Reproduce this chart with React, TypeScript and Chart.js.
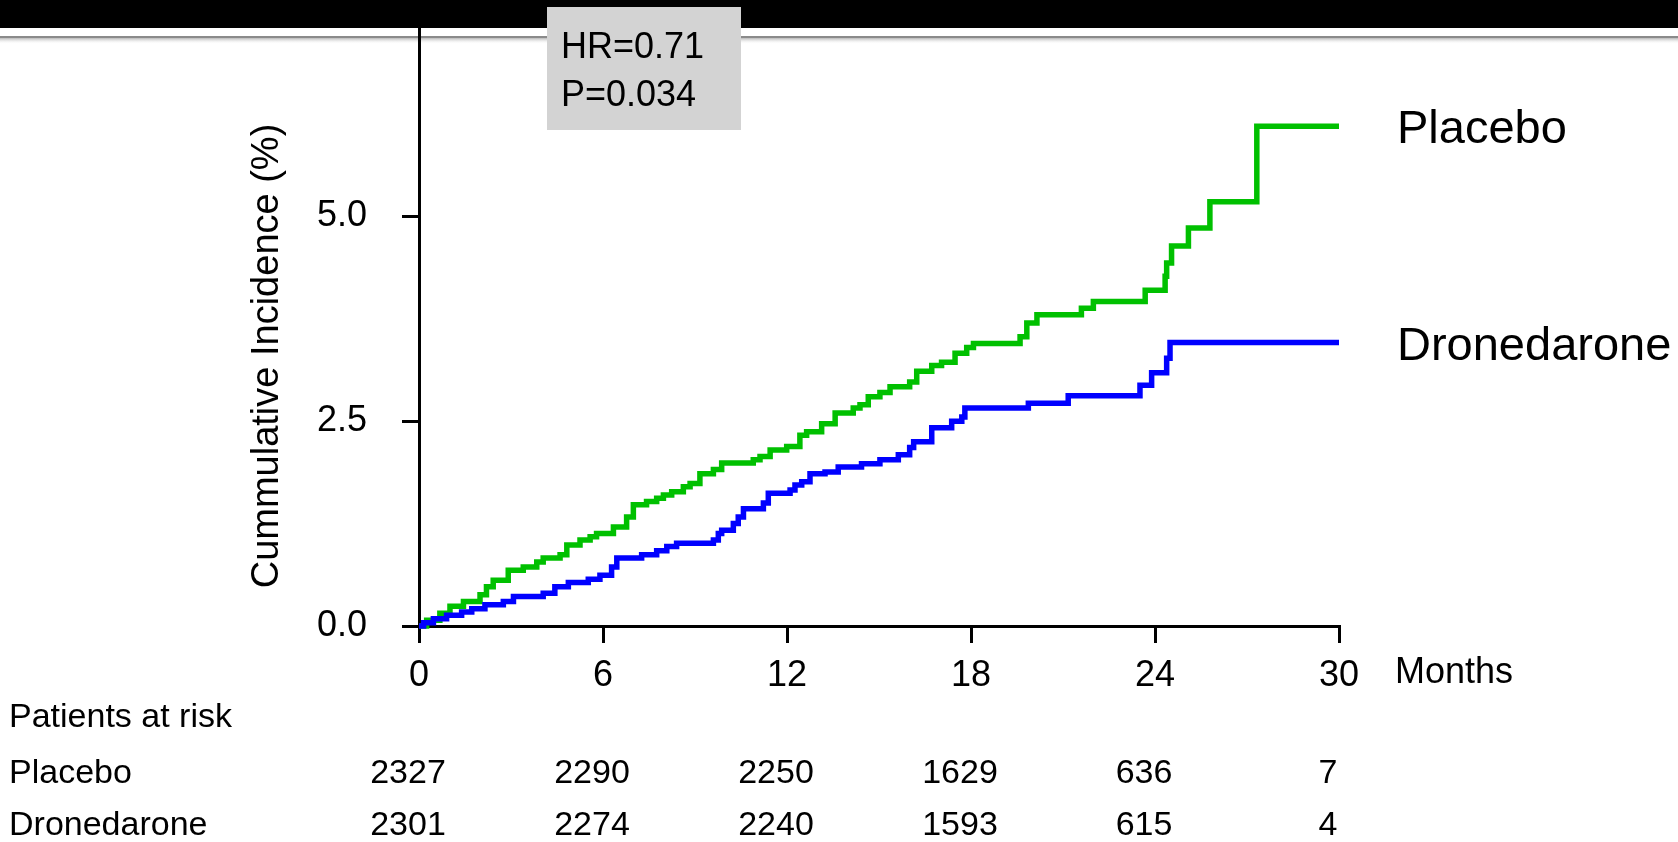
import React, { useEffect, useRef } from "react";
import { Chart, registerables } from "chart.js";

Chart.register(...registerables);

// Axis ticks
const monthTicks = [0, 6, 12, 18, 24, 30];
const incidenceTicks = [0, 2.5, 5.0];

// Kaplan–Meier style cumulative incidence steps (month of event, new cumulative %)
const placeboMonths = [
  0, 0.25, 0.68, 1.01, 1.45, 1.99, 2.2, 2.42, 2.91, 3.4, 3.84, 4.05, 4.6, 4.82,
  5.25, 5.58, 5.79, 6.34, 6.77, 6.99, 7.42, 7.75, 7.97, 8.24, 8.62, 8.84, 9.16,
  9.6, 9.87, 10.9, 11.12, 11.45, 11.99, 12.42, 12.64, 13.13, 13.57, 14.16,
  14.38, 14.65, 15.03, 15.36, 16.0, 16.23, 16.72, 17.04, 17.48, 17.86, 18.08,
  19.6, 19.82, 20.15, 21.6, 21.99, 23.68, 24.33, 24.38, 24.54, 25.09, 25.79,
  27.32, 30,
];
const placeboIncidence = [
  0, 0.07, 0.155, 0.24, 0.3, 0.38, 0.48, 0.56, 0.68, 0.72, 0.78, 0.83, 0.87,
  0.99, 1.05, 1.09, 1.13, 1.21, 1.33, 1.48, 1.52, 1.56, 1.6, 1.64, 1.7, 1.74,
  1.86, 1.91, 1.99, 2.03, 2.07, 2.15, 2.19, 2.33, 2.37, 2.47, 2.6, 2.66, 2.7,
  2.8, 2.85, 2.92, 2.98, 3.11, 3.18, 3.22, 3.33, 3.4, 3.45, 3.53, 3.7, 3.8,
  3.88, 3.96, 4.1, 4.27, 4.43, 4.64, 4.86, 5.18, 6.1, 6.1,
];

const dronedaroneMonths = [
  0, 0.15, 0.47, 0.9, 1.39, 1.72, 2.15, 2.75, 3.08, 4.05, 4.43, 4.87, 5.52, 5.9,
  6.28, 6.45, 7.26, 7.75, 8.08, 8.4, 9.6, 9.76, 9.87, 10.25, 10.41, 10.58,
  11.23, 11.39, 12.1, 12.26, 12.48, 12.75, 13.24, 13.67, 14.43, 15.03, 15.63,
  16.0, 16.13, 16.72, 17.37, 17.7, 17.8, 19.87, 21.17, 23.51, 23.89, 24.38,
  24.49, 30,
];
const dronedaroneIncidence = [
  0, 0.04, 0.09, 0.13, 0.17, 0.21, 0.26, 0.3, 0.36, 0.4, 0.48, 0.53, 0.57, 0.62,
  0.72, 0.83, 0.87, 0.92, 0.97, 1.01, 1.05, 1.13, 1.17, 1.25, 1.33, 1.43, 1.5,
  1.62, 1.66, 1.72, 1.76, 1.86, 1.88, 1.94, 1.98, 2.03, 2.09, 2.18, 2.25, 2.42,
  2.5, 2.55, 2.66, 2.72, 2.81, 2.94, 3.09, 3.27, 3.46, 3.46,
];

// Patients at risk at each month tick
const placeboAtRisk = [2327, 2290, 2250, 1629, 636, 7];
const dronedaroneAtRisk = [2301, 2274, 2240, 1593, 615, 4];

const seriesNames = ["Placebo", "Dronedarone"];
const statLines = ["HR=0.71", "P=0.034"];
const yTitle = "Cummulative Incidence (%)";
const xTitle = "Months";
const riskTitle = "Patients at risk";

const FONT = '"Liberation Sans", Arial, Helvetica, sans-serif';
const GREEN = "#00c000";
const BLUE = "#0000ff";

const decorations = {
  id: "decorations",
  beforeDraw(chart: any) {
    const { ctx, width } = chart;
    ctx.save();
    ctx.fillStyle = "#ffffff";
    ctx.fillRect(0, 0, width, chart.height);
    // thin shaded rule under the header band
    ctx.fillStyle = "#8a8a8a";
    ctx.fillRect(0, 36, width, 2);
    const g = ctx.createLinearGradient(0, 38, 0, 44);
    g.addColorStop(0, "#b8b8b8");
    g.addColorStop(1, "rgba(255,255,255,0)");
    ctx.fillStyle = g;
    ctx.fillRect(0, 38, width, 6);
    ctx.restore();
  },
  afterDraw(chart: any) {
    const { ctx, width } = chart;
    const xs = chart.scales.x;
    const ys = chart.scales.y;
    ctx.save();

    // header band
    ctx.fillStyle = "#000000";
    ctx.fillRect(0, 0, width, 28);

    // hazard ratio box
    ctx.fillStyle = "#d3d3d3";
    ctx.fillRect(547, 7, 194, 123);
    ctx.fillStyle = "#000000";
    ctx.textAlign = "left";
    ctx.textBaseline = "alphabetic";
    ctx.font = `36px ${FONT}`;
    ctx.fillText(statLines[0], 561, 58);
    ctx.fillText(statLines[1], 561, 106);

    // y axis title
    ctx.save();
    ctx.translate(268, 356);
    ctx.rotate(-Math.PI / 2);
    ctx.font = `38px ${FONT}`;
    ctx.textAlign = "center";
    ctx.textBaseline = "middle";
    ctx.fillText(yTitle, 0, 0);
    ctx.restore();

    // x axis title
    ctx.font = `36px ${FONT}`;
    ctx.textAlign = "left";
    ctx.fillText(xTitle, xs.right + 56, 683);

    // series labels at the end of each curve
    ctx.font = `47px ${FONT}`;
    const lastP = placeboIncidence[placeboIncidence.length - 1];
    const lastD = dronedaroneIncidence[dronedaroneIncidence.length - 1];
    ctx.fillText(seriesNames[0], xs.right + 58, ys.getPixelForValue(lastP) + 17);
    ctx.fillText(seriesNames[1], xs.right + 58, ys.getPixelForValue(lastD) + 17);

    // patients at risk table
    ctx.font = `34px ${FONT}`;
    ctx.fillText(riskTitle, 9, 727);
    ctx.fillText(seriesNames[0], 9, 783);
    ctx.fillText(seriesNames[1], 9, 835);
    ctx.textAlign = "center";
    monthTicks.forEach((m, i) => {
      const px = xs.getPixelForValue(m) - 11;
      ctx.fillText(String(placeboAtRisk[i]), px, 783);
      ctx.fillText(String(dronedaroneAtRisk[i]), px, 835);
    });

    ctx.restore();
  },
};

export default function App() {
  const canvasRef = useRef<HTMLCanvasElement | null>(null);

  useEffect(() => {
    const canvas = canvasRef.current;
    if (!canvas) return;

    const axisGrid = {
      display: true,
      drawOnChartArea: false,
      drawTicks: true,
      tickLength: 17,
      color: "#000000",
      lineWidth: 3,
    };
    const axisBorder = { display: true, color: "#000000", width: 3 };
    const tickFont = { family: FONT, size: 36 };

    const chart = new Chart(canvas, {
      type: "line",
      data: {
        datasets: [
          {
            label: seriesNames[1],
            data: dronedaroneMonths.map((t, i) => ({ x: t, y: dronedaroneIncidence[i] })),
            borderColor: BLUE,
            backgroundColor: BLUE,
            borderWidth: 5.5,
            pointRadius: 0,
            stepped: "before",
            fill: false,
            clip: false,
            order: 0,
          },
          {
            label: seriesNames[0],
            data: placeboMonths.map((t, i) => ({ x: t, y: placeboIncidence[i] })),
            borderColor: GREEN,
            backgroundColor: GREEN,
            borderWidth: 5.5,
            pointRadius: 0,
            stepped: "before",
            fill: false,
            clip: false,
            order: 1,
          },
        ],
      },
      options: {
        animation: false,
        responsive: false,
        devicePixelRatio: 1,
        layout: { padding: { left: 0, top: 28, right: 339, bottom: 0 } },
        plugins: {
          legend: { display: false },
          tooltip: { enabled: false },
        },
        scales: {
          x: {
            type: "linear",
            min: 0,
            max: 30,
            afterBuildTicks: (s: any) => {
              s.ticks = monthTicks.map((v) => ({ value: v }));
            },
            afterFit: (s: any) => {
              s.height = 216;
              s.paddingLeft = 0;
              s.paddingRight = 0;
              s.paddingTop = 0;
              s.paddingBottom = 0;
            },
            grid: axisGrid,
            border: axisBorder,
            ticks: {
              font: tickFont,
              color: "#000000",
              padding: 11,
              maxRotation: 0,
              autoSkip: false,
            },
          },
          y: {
            type: "linear",
            min: 0,
            max: 7.3,
            afterBuildTicks: (s: any) => {
              s.ticks = incidenceTicks.map((v) => ({ value: v }));
            },
            afterFit: (s: any) => {
              s.width = 419;
              s.paddingLeft = 0;
              s.paddingRight = 0;
              s.paddingTop = 0;
              s.paddingBottom = 0;
            },
            grid: axisGrid,
            border: axisBorder,
            ticks: {
              font: tickFont,
              color: "#000000",
              padding: 35,
              callback: (v: any) => Number(v).toFixed(1),
            },
          },
        },
      } as any,
      plugins: [decorations],
    });

    return () => chart.destroy();
  }, []);

  return (
    <div
      style={{
        position: "fixed",
        left: 0,
        top: 0,
        width: 1678,
        height: 842,
        background: "#ffffff",
        overflow: "hidden",
      }}
    >
      <canvas ref={canvasRef} width={1678} height={842} style={{ display: "block" }} />
    </div>
  );
}
